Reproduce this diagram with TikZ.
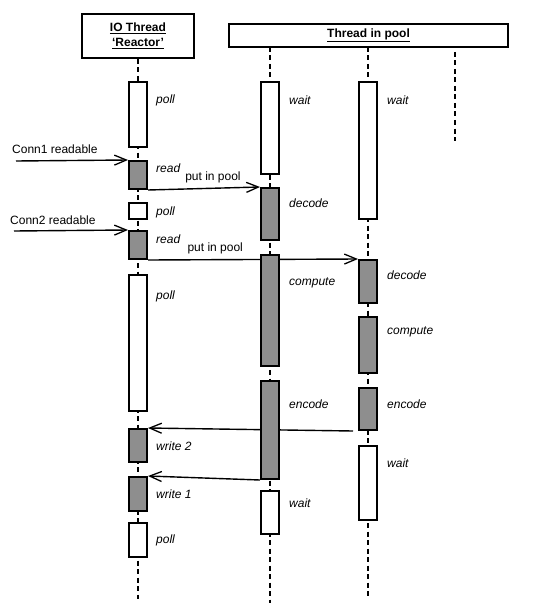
\documentclass[tikz,border=0pt]{standalone}
\usepackage{fontspec}
\setmainfont{Liberation Sans}
\usetikzlibrary{arrows.meta}
\definecolor{actgray}{RGB}{142,142,142}
\pgfdeclarelayer{bg}
\pgfsetlayers{bg,main}
\newcommand\actbox[5]{\node[#1,minimum height={(#5-#4)*1pt}] (#2) at (#3,{(#4+#5)/2}) {};}
\newcommand\actlbl[4]{\node[lbl] (#1) at (#2,#3) {#4};}
\begin{document}
\begin{tikzpicture}[x=1pt,y=-1pt,
  act/.style={draw,line width=2pt,fill=white,minimum width=18pt,inner sep=0pt,rectangle},
  busy/.style={act,fill=actgray},
  life/.style={line width=2pt,dash pattern=on 5pt off 3.5pt},
  lbl/.style={font=\fontsize{12}{14}\selectfont\itshape,anchor=west,inner sep=0pt},
  txt/.style={font=\fontsize{12}{14}\selectfont,inner sep=0pt},
  msg/.style={line width=1.4pt,-{Straight Barb[length=12pt,width=10pt,line width=1.3pt]}},
  head/.style={draw,line width=2pt,fill=white,inner sep=0pt,font=\fontsize{12}{15}\selectfont\bfseries,align=center}]
\useasboundingbox (0,0) rectangle (545,615);

% heads
\node[head,minimum width=112pt,minimum height=44pt] (iohead) at (138,36) {\underline{IO Thread}\\\underline{‘Reactor’}};
\node[head,minimum width=279pt,minimum height=23pt] (poolhead) at (368.5,35.5) {\underline{Thread in pool}};

% IO thread activations
\actbox{act}{iopoll1}{138}{82}{147}
\actbox{busy}{ioread1}{138}{161}{189}
\actbox{act}{iopoll2}{138}{203}{219}
\actbox{busy}{ioread2}{138}{231}{259}
\actbox{act}{iopoll3}{138}{275}{411}
\actbox{busy}{iowrite2}{138}{429}{462}
\actbox{busy}{iowrite1}{138}{477}{511}
\actbox{act}{iopoll4}{138}{523}{557}

% pool thread 1
\actbox{act}{pawait1}{270}{82}{174}
\actbox{busy}{padecode}{270}{188}{240}
\actbox{busy}{pacompute}{270}{255}{366}
\actbox{busy}{paencode}{270}{381}{479}
\actbox{act}{pawait2}{270}{491}{534}

% pool thread 2
\actbox{act}{pbwait1}{368}{82}{219}
\actbox{busy}{pbdecode}{368}{260}{303}
\actbox{busy}{pbcompute}{368}{317}{373}
\actbox{busy}{pbencode}{368}{388}{430}
\actbox{act}{pbwait2}{368}{446}{520}

% labels
\actlbl{lio1}{156}{100}{poll}
\actlbl{lio2}{156}{168}{read}
\actlbl{lio3}{156}{212}{poll}
\actlbl{lio4}{156}{239}{read}
\actlbl{lio5}{156}{296}{poll}
\actlbl{lio6}{156}{446}{write 2}
\actlbl{lio7}{156}{494}{write 1}
\actlbl{lio8}{156}{540}{poll}
\actlbl{lpa1}{289}{100}{wait}
\actlbl{lpa2}{289}{203}{decode}
\actlbl{lpa3}{289}{283}{compute}
\actlbl{lpa4}{289}{404}{encode}
\actlbl{lpa5}{289}{503}{wait}
\actlbl{lpb1}{387}{100}{wait}
\actlbl{lpb2}{387}{275}{decode}
\actlbl{lpb3}{387}{332}{compute}
\actlbl{lpb4}{387}{404}{encode}
\actlbl{lpb5}{387}{463}{wait}

\node[txt,anchor=west] (conn1) at (12,149) {Conn1 readable};
\node[txt,anchor=west] (conn2) at (10,220) {Conn2 readable};

% coordinates
\coordinate (ioend) at (138,599);
\coordinate (patop) at (270,47);
\coordinate (paend) at (270,603);
\coordinate (pbtop) at (368,47);
\coordinate (pbend) at (368,598);
\coordinate (pctop) at (455,52);
\coordinate (pcend) at (455,141);
\coordinate (c1start) at (16,161);
\coordinate (c2start) at (14,231);

\begin{pgfonlayer}{bg}
\draw[life] (iohead.south) -- (ioend);
\draw[life] (patop) -- (paend);
\draw[life] (pbtop) -- (pbend);
\draw[life] (pctop) -- (pcend);

\draw[msg] (c1start) -- (ioread1.north west);
\draw[msg] (c2start) -- (ioread2.north west);
\draw[msg] (ioread1.south east) -- node[txt,pos=0.58,above=5pt] (pip1) {put in pool} (padecode.north west);
\draw[msg] (ioread2.south east) -- node[txt,pos=0.32,above=5pt] (pip2) {put in pool} (pbdecode.north west);
\draw[msg] ([xshift=-5pt]pbencode.south west) -- (iowrite2.north east);
\draw[msg] (paencode.south west) -- (iowrite1.north east);
\end{pgfonlayer}
\end{tikzpicture}
\end{document}
